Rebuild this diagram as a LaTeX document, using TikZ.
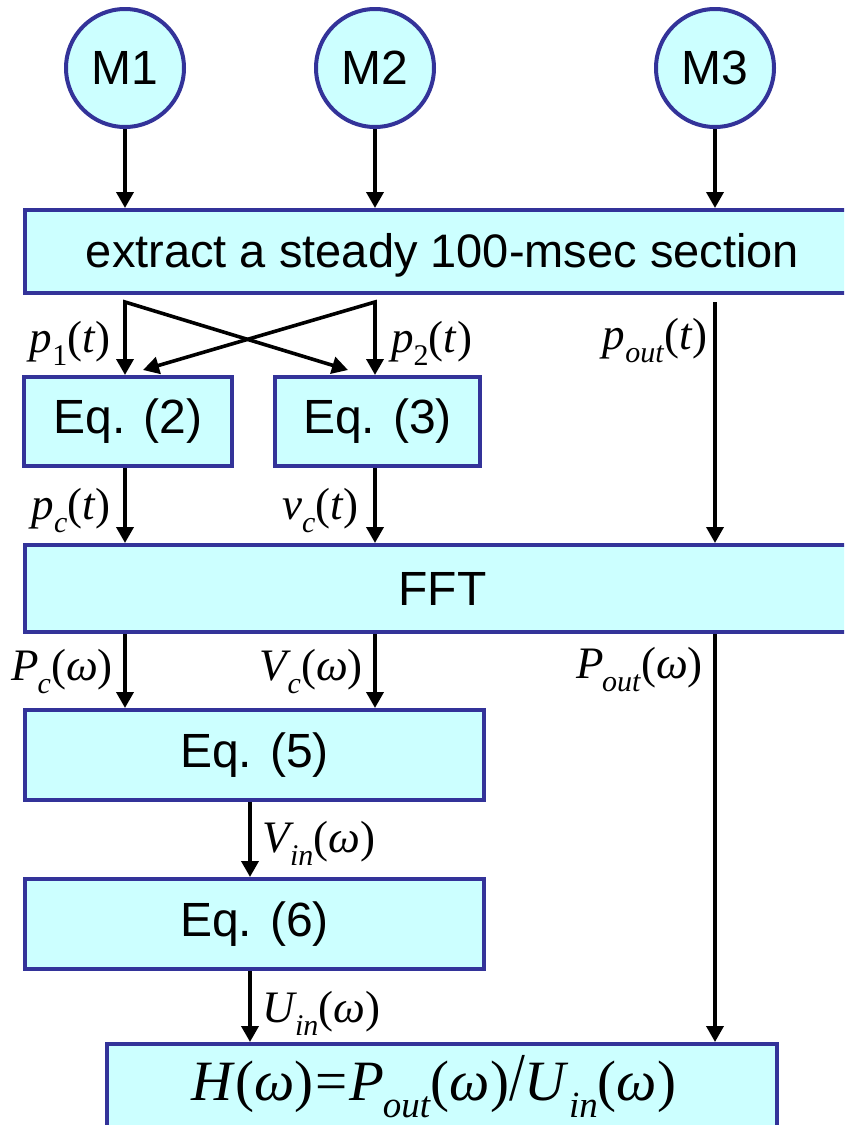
\documentclass[tikz,border=0pt]{standalone}
\usepackage{fontspec}
\setmainfont{Liberation Sans}
\newfontfamily\tms{Liberation Serif}
\usetikzlibrary{arrows.meta}
\definecolor{boxfill}{HTML}{CCFFFF}
\definecolor{boxline}{HTML}{333399}
% lowered subscript at a given size
\newcommand\sbs[2][30]{\raisebox{-0.3em}{\fontsize{#1}{#1}\selectfont #2}}
\begin{document}
\begin{tikzpicture}[x=1pt,y=-1pt,
  blk/.style={draw=boxline,fill=boxfill,line width=4pt,inner sep=0pt,
    font=\fontsize{48}{56}\selectfont},
  mic/.style={blk,circle,minimum size=118pt},
  arr/.style={line width=3.6pt,-{Triangle[width=17pt,length=16pt]}},
  arrtwo/.style={line width=3.6pt,{Triangle[width=17pt,length=16pt]}-{Triangle[width=17pt,length=16pt]}},
  lab/.style={inner sep=0pt,font=\tms\fontsize{45}{50}\selectfont}]
\clip (0,0) rectangle (844,1125);
\fill[white] (0,0) rectangle (844,1125);

% microphones
\node[mic] (m1) at (125,68) {M1};
\node[mic] (m2) at (375,68) {M2};
\node[mic] (m3) at (715,68) {M3};

% processing blocks
\node[blk,minimum width=835pt,minimum height=83pt] (ext) at (442.5,251.5) {};
\node[font=\fontsize{47}{56}\selectfont,inner sep=0pt] (extt) at (442.5,255) {extract a steady 100-msec section};
\node[blk,minimum width=208pt,minimum height=89pt] (eq2) at (128,421.5) {Eq. (2)};
\node[blk,minimum width=205pt,minimum height=89pt] (eq3) at (377.5,421.5) {Eq. (3)};
\node[blk,minimum width=835pt,minimum height=87pt] (fft) at (442.5,588.5) {FFT};
\node[blk,minimum width=459pt,minimum height=90pt] (eq5) at (254.5,755) {Eq. (5)};
\node[blk,minimum width=459pt,minimum height=90pt] (eq6) at (254.5,924) {Eq. (6)};
\node[blk,minimum width=670pt,minimum height=92pt] (hw) at (442,1090) {};
\node[inner sep=0pt,anchor=base,font=\tms\fontsize{57}{60}\selectfont] (hwt) at (434,1100)
  {\textit{H}(\textit{ω})\kern2pt=\kern2pt\textit{P}\kern-2pt\sbs[37]{\textit{out}}(\textit{ω})\scalebox{1}[1.2]{/}\textit{U}\sbs[37]{\textit{in}}(\textit{ω})};

% branch points
\coordinate (s1) at (125,302);
\coordinate (s2) at (375,302);
\coordinate (s3) at (715,302);
\coordinate (t1) at (348,370);
\coordinate (t2) at (143,370);
\coordinate (c4) at (250,800);

% connectors
\draw[arr] (m1.south) -- (m1.south |- ext.north);
\draw[arr] (m2.south) -- (m2.south |- ext.north);
\draw[arr] (m3.south) -- (m3.south |- ext.north);
\draw[arrtwo] (t1) -- (s1) -- (s1 |- eq2.north);
\draw[arrtwo] (t2) -- (s2) -- (s2 |- eq3.north);
\draw[arr] (s3) -- (s3 |- fft.north);
\draw[arr] (s1 |- eq2.south) -- (s1 |- fft.north);
\draw[arr] (s2 |- eq3.south) -- (s2 |- fft.north);
\draw[arr] (s1 |- fft.south) -- (s1 |- eq5.north);
\draw[arr] (s2 |- fft.south) -- (s2 |- eq5.north);
\draw[arr] (s3 |- fft.south) -- (s3 |- hw.north);
\draw[arr] (c4 |- eq5.south) -- (c4 |- eq6.north);
\draw[arr] (c4 |- eq6.south) -- (c4 |- hw.north);

% signal labels
\node[lab,anchor=base east] (lp1) at (111,352) {\textit{p}\sbs{1}(\textit{t})};
\node[lab,anchor=base west] (lp2) at (391,352) {\textit{p}\sbs{2}(\textit{t})};
\node[lab,anchor=base east] (lpo) at (708,349) {\textit{p}\sbs{\textit{out}}(\textit{t})};
\node[lab,anchor=base east] (lpc) at (111,519) {\textit{p}\sbs{\textit{c}}(\textit{t})};
\node[lab,anchor=base east] (lvc) at (359,519) {\textit{v}\sbs{\textit{c}}(\textit{t})};
\node[lab,anchor=base east] (lPc) at (113,680) {\textit{P}\kern-1pt\sbs{\textit{c}}(\textit{ω})};
\node[lab,anchor=base east] (lVc) at (363,680) {\textit{V}\kern-4pt\sbs{\textit{c}}(\textit{ω})};
\node[lab,anchor=base east] (lPo) at (703,678) {\textit{P}\kern-2pt\sbs{\textit{out}}(\textit{ω})};
\node[lab,anchor=base west] (lVi) at (262,852) {\textit{V}\kern-4pt\sbs{\textit{in}}(\textit{ω})};
\node[lab,anchor=base west] (lUi) at (262,1022) {\textit{U}\kern-2pt\sbs{\textit{in}}(\textit{ω})};
\end{tikzpicture}
\end{document}
